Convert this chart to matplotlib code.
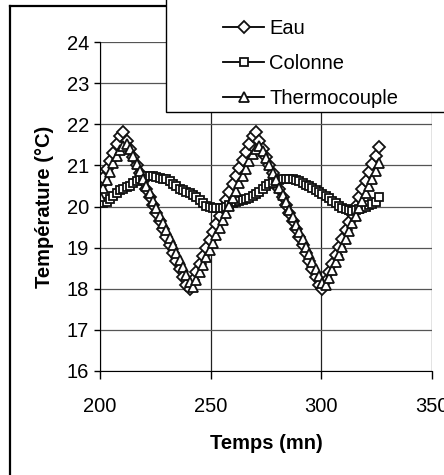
import numpy as np
import matplotlib.pyplot as plt
from matplotlib.patches import Rectangle
from matplotlib.lines import Line2D

plt.rcParams['font.family'] = ['Liberation Sans', 'DejaVu Sans']

# sampling every 1.5 min from 200 to 326 mn
temps = np.arange(200, 326.1, 1.5)

eau = [20.50, 20.70, 20.90, 21.10, 21.31, 21.51, 21.72, 21.80, 21.59, 21.40,
       21.20, 21.01, 20.81, 20.62, 20.42, 20.23, 20.03, 19.84, 19.64, 19.45,
       19.25, 19.06, 18.86, 18.67, 18.47, 18.28, 18.08, 18.00, 18.21, 18.41,
       18.60, 18.80, 18.99, 19.19, 19.38, 19.58, 19.77, 19.97, 20.16, 20.36,
       20.55, 20.75, 20.94, 21.14, 21.33, 21.53, 21.72, 21.80, 21.59, 21.40,
       21.20, 21.01, 20.81, 20.62, 20.42, 20.23, 20.03, 19.84, 19.64, 19.45,
       19.25, 19.06, 18.86, 18.67, 18.47, 18.28, 18.08, 18.00, 18.20, 18.40,
       18.61, 18.81, 19.01, 19.21, 19.42, 19.62, 19.82, 20.02, 20.23, 20.43,
       20.63, 20.84, 21.04, 21.24, 21.45]

colonne = [20.08, 20.09, 20.12, 20.18, 20.26, 20.33, 20.39, 20.43, 20.47, 20.51,
           20.56, 20.61, 20.67, 20.72, 20.74, 20.74, 20.73, 20.71, 20.70, 20.68,
           20.66, 20.61, 20.55, 20.49, 20.43, 20.39, 20.35, 20.32, 20.28, 20.22,
           20.15, 20.08, 20.02, 19.98, 19.96, 19.96, 19.96, 19.97, 19.99, 20.03,
           20.08, 20.11, 20.14, 20.16, 20.18, 20.21, 20.25, 20.30, 20.36, 20.43,
           20.49, 20.54, 20.58, 20.61, 20.64, 20.66, 20.68, 20.68, 20.67, 20.65,
           20.62, 20.58, 20.53, 20.49, 20.44, 20.39, 20.35, 20.31, 20.26, 20.20,
           20.14, 20.08, 20.02, 19.97, 19.94, 19.92, 19.90, 19.91, 19.94, 19.97,
           20.00, 20.03, 20.06, 20.10, 20.22]

thermo = [20.25, 20.45, 20.65, 20.85, 21.05, 21.22, 21.38, 21.48, 21.52, 21.40,
          21.22, 21.04, 20.86, 20.68, 20.50, 20.32, 20.14, 19.96, 19.78, 19.60,
          19.42, 19.24, 19.06, 18.88, 18.70, 18.52, 18.34, 18.16, 18.05, 18.22,
          18.40, 18.58, 18.76, 18.94, 19.12, 19.30, 19.48, 19.66, 19.84, 20.02,
          20.20, 20.38, 20.56, 20.74, 20.92, 21.10, 21.27, 21.40, 21.48, 21.36,
          21.18, 21.00, 20.82, 20.64, 20.46, 20.28, 20.10, 19.92, 19.74, 19.56,
          19.38, 19.20, 19.02, 18.84, 18.66, 18.48, 18.30, 18.14, 18.08, 18.26,
          18.45, 18.64, 18.83, 19.02, 19.21, 19.40, 19.59, 19.78, 19.96, 20.14,
          20.32, 20.50, 20.68, 20.87, 21.05]

W, H = 444, 475
fig = plt.figure(figsize=(W / 100, H / 100), dpi=100)
ax = fig.add_axes([100 / W, 1 - 371 / H, 332 / W, 329 / H])

style = dict(color='black', lw=1.3, markerfacecolor='white',
             markeredgecolor='#111111', markeredgewidth=1.3)
l1, = ax.plot(temps, eau, marker='D', markersize=6.5, label='Eau', **style)
l2, = ax.plot(temps, colonne, marker='s', markersize=6.3, label='Colonne', **style)
l3, = ax.plot(temps, thermo, marker='^', markersize=7.5, label='Thermocouple', **style)

ax.set_xlim(200, 350)
ax.set_ylim(16, 24)
ax.set_xticks([200, 250, 300, 350])
ax.set_yticks(range(16, 25))
ax.grid(axis='y', color='#555555', lw=0.9)
ax.grid(axis='x', color='#222222', lw=0.9)
ax.set_axisbelow(True)
for s in ['top', 'right']:
    ax.spines[s].set_visible(False)
ax.tick_params(axis='y', length=4, width=1, pad=4, labelsize=14.5)
ax.tick_params(axis='x', length=6, width=1, pad=13, labelsize=14.5)

ax.set_xlabel('Temps (mn)', fontsize=14.5, fontweight='bold', labelpad=13)
ax.set_ylabel('Température (°C)', fontsize=14.5, fontweight='bold', labelpad=9)

# legend box in the top right corner, cut by the figure edge
fig.patches.append(Rectangle((166 / W, 1 - 112 / H), 1.0, 0.5, transform=fig.transFigure,
                             facecolor='white', edgecolor='black', lw=1.0, zorder=5))
leg = fig.legend(handles=[l1, l2, l3], loc='upper left', bbox_to_anchor=(205 / W, 1 - 1 / H),
                 frameon=False, fontsize=14.5, handlelength=2.05, handletextpad=0.25,
                 labelspacing=0.8)
leg.set_zorder(6)

# outer frame
fig.add_artist(Line2D([10 / W, 10 / W], [0, 1 - 6 / H], transform=fig.transFigure,
                      color='black', lw=1.6))
fig.add_artist(Line2D([10 / W, 1], [1 - 6 / H, 1 - 6 / H], transform=fig.transFigure,
                      color='black', lw=1.6))

fig.savefig('out.png', dpi=100)
